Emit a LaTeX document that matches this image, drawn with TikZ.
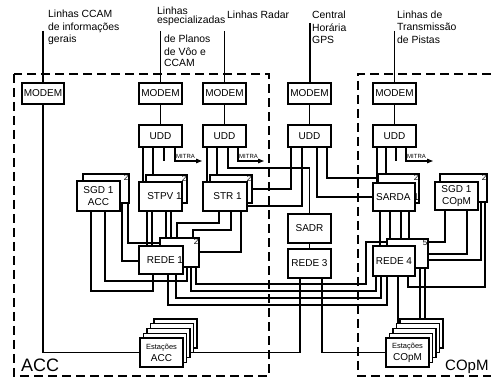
\documentclass[tikz,border=0pt]{standalone}
\usepackage{fontspec}
\setmainfont{Liberation Sans}
\usetikzlibrary{arrows.meta,backgrounds}
\newcommand\bx[6]{\pgfmathsetmacro\bxw{#4-#2}\pgfmathsetmacro\bxh{#5-#3}%
  \node[box,minimum width=\bxw pt,minimum height=\bxh pt] (#1) at ({(#2+#4)/2},{(#3+#5)/2}) {#6};}
\newcommand\sh[2]{\makebox[0pt]{\hspace*{#1}#2}}
\begin{document}
\begin{tikzpicture}[x=1pt,y=-1pt,
  box/.style={draw,line width=1.2pt,fill=white,inner sep=0pt,font=\fontsize{10}{12}\selectfont,align=center},
  layer/.style={draw,line width=1.1pt,fill=white},
  ln/.style={line width=1.1pt},
  txt/.style={inner sep=0pt,font=\fontsize{10.4}{12}\selectfont,anchor=base west},
  num/.style={inner sep=1.2pt,font=\fontsize{8}{9}\selectfont,anchor=north east},
  mitra/.style={inner sep=0pt,font=\fontsize{6}{7}\selectfont,anchor=south west},
  tip/.style={-{Triangle[length=6pt,width=4.5pt]}},
  zone/.style={line width=1.4pt,dash pattern=on 9pt off 5pt},
  big/.style={inner sep=0pt,anchor=base west}]
\useasboundingbox (0,0) rectangle (491,379);

% ---- boxes
\bx{m1}{22}{83}{64}{104}{MODEM}
\bx{m2}{139}{83}{182}{104}{MODEM}
\bx{m3}{203}{83}{246}{104}{MODEM}
\bx{m4}{288}{83}{331}{104}{MODEM}
\bx{m5}{373}{83}{416}{104}{MODEM}
\bx{u2}{139}{125}{182}{147}{UDD}
\bx{u3}{203}{125}{246}{147}{UDD}
\bx{u4}{288}{125}{331}{147}{UDD}
\bx{u5}{373}{125}{416}{147}{UDD}

\bx{sgdAb}{83}{174}{129}{203}{}
\bx{sgdA}{77}{181}{120}{211}{SGD 1\\ACC}
\bx{stpvb}{146}{175}{187}{203}{}
\bx{stpv}{139}{182}{182}{211}{\sh{8pt}{STPV 1}}
\bx{strb}{210}{175}{252}{203}{}
\bx{str}{203}{182}{247}{211}{\sh{5pt}{STR 1}}
\bx{sardab}{378}{174}{419}{203}{}
\bx{sarda}{373}{183}{415}{211}{\sh{7pt}{SARDA 1}}
\bx{sgdCb}{440}{174}{487}{202}{}
\bx{sgdC}{435}{182}{478}{210}{SGD 1\\COpM}
\bx{rede1b}{160}{238}{199}{267}{}
\bx{rede1}{139}{246}{183}{274}{\sh{8pt}{REDE 1}}
\bx{rede4b}{387}{239}{428}{268}{}
\bx{rede4}{373}{246}{415}{276}{REDE 4}
\bx{sadr}{288}{214}{331}{243}{SADR}
\bx{rede3}{288}{249}{331}{278}{REDE 3}

\node[num] (n1) at (sgdAb.north east) {2};
\node[num] (n2) at (stpvb.north east) {2};
\node[num] (n3) at (strb.north east) {2};
\node[num] (n4) at (sardab.north east) {2};
\node[num] (n5) at (sgdCb.north east) {2};
\node[num] (n6) at (rede1b.north east) {2};
\node[num] (n7) at (rede4b.north east) {5};

% ---- stations
\foreach \i in {4,3,2,1} \draw[layer] ({140+3.5*\i},{338-4.75*\i}) rectangle ++(43,29);
\bx{estA}{140}{338}{183}{367}{\fontsize{7.5}{14}\selectfont Estações\\\fontsize{10}{14}\selectfont ACC}
\foreach \i in {4,3,2,1} \draw[layer] ({386+3.5*\i},{338-4.75*\i}) rectangle ++(43,29);
\bx{estC}{386}{338}{429}{367}{\fontsize{7.5}{14}\selectfont Estações\\\fontsize{10}{14}\selectfont COpM}

% ---- texts
\node[txt] (t1a) at (48,18) {Linhas CCAM};
\node[txt] (t1b) at (48,31) {de informações};
\node[txt] (t1c) at (48,43) {gerais};
\node[txt] (t2a) at (157,14.5) {Linhas};
\node[txt] (t2b) at (157,24) {especializadas};
\node[txt] (t2c) at (164,43) {de Planos};
\node[txt] (t2d) at (164,56) {de Vôo e};
\node[txt] (t2e) at (164,67) {CCAM};
\node[txt] (t3) at (227,19) {Linhas Radar};
\node[txt] (t4a) at (312,19) {Central};
\node[txt] (t4b) at (312,32) {Horária};
\node[txt] (t4c) at (312,44) {GPS};
\node[txt] (t5a) at (397,19) {Linhas de};
\node[txt] (t5b) at (397,31) {Transmissão};
\node[txt] (t5c) at (397,44) {de Pistas};
\node[big,font=\fontsize{18}{18}\selectfont] (accl) at (21,372) {ACC};
\node[big,font=\fontsize{15}{15}\selectfont] (copml) at (445,371) {COpM};
\node[mitra] (ml2) at (176,158.5) {MITRA};
\node[mitra] (ml3) at (239,158.5) {MITRA};
\node[mitra] (ml5) at (407,158.5) {MITRA};

\coordinate (i1) at (43,31);
\coordinate (i2) at (160.5,31);
\coordinate (i3) at (224.5,31);
\coordinate (i4) at (309.5,23);
\coordinate (i5) at (394.5,31);
\coordinate (s2) at (164,161);
\coordinate (s5) at (396,161);
\coordinate (mt2) at (202,161);
\coordinate (mt3) at (264,161);
\coordinate (mt5) at (433,161);

\begin{scope}[on background layer]
% zones
\draw[zone] (14,74) rectangle (269,376);
\draw[zone] (491,74) -- (358,74) -- (358,376) -- (491,376);
% inputs
\draw[ln] (i1) -- (m1.north);
\draw[ln] (i2) -- (m2.north);
\draw[ln] (i3) -- (m3.north);
\draw[line width=2pt] (i4) -- (m4.north);
\draw[ln] (i5) -- (m5.north);
\draw[ln] (m2) -- (u2);
\draw[ln] (m3) -- (u3);
\draw[ln] (m4) -- (u4);
\draw[ln] (m5) -- (u5);
\draw[ln] (m1.south) |- (estA.west);
% UDD 2
\draw[ln] (143,0 |- u2.south) -- (143,0 |- stpv.north);
\draw[ln] (153,0 |- u2.south) -- (153,0 |- stpvb.north);
\draw[ln] (164,0 |- u2.south) -- (s2);
\draw[ln,tip] (175,0 |- u2.south) |- (mt2);
% UDD 3
\draw[ln] (207,0 |- u3.south) -- (207,0 |- str.north);
\draw[ln] (217,0 |- u3.south) -- (217,0 |- strb.north);
\draw[ln] (228,0 |- u3.south) -- (228,168) -| (sadr.north);
\draw[ln,tip] (238,0 |- u3.south) |- (mt3);
% UDD 4
\draw[ln] (291,0 |- u4.south) |- (strb.east);
\draw[ln] (302,0 |- u4.south) -- (302,206) -- (str.east |- 0,206);
\draw[ln] (317,0 |- u4.south) |- (sarda.west);
\draw[ln] (327,0 |- u4.south) -- (327,178) -- (sardab.west |- 0,178);
% UDD 5
\draw[ln] (377,0 |- u5.south) -- (377,0 |- sarda.north);
\draw[ln] (386,0 |- u5.south) -- (386,0 |- sardab.north);
\draw[ln] (396,0 |- u5.south) -- (s5);
\draw[ln,tip] (406,0 |- u5.south) |- (mt5);
% SGD ACC
\draw[ln] (91,0 |- sgdA.south) -- (91,291) -| (153,0 |- rede1.south);
\draw[ln] (105,0 |- sgdA.south) -- (105,281) -| (187,0 |- rede1b.south);
\draw[ln] (122,0 |- sgdAb.south) |- (rede1.west |- 0,261);
\draw[ln] (128,0 |- sgdAb.south) |- (rede1b.west |- 0,243);
% STPV
\draw[ln] (147,0 |- stpv.south) -- (147,0 |- rede1.north);
\draw[ln] (152,0 |- stpv.south) -- (152,0 |- rede1.north);
\draw[ln] (166,0 |- stpv.south) -- (166,0 |- rede1b.north);
\draw[ln] (171,0 |- stpv.south) -- (171,0 |- rede1b.north);
% STR
\draw[ln] (219,0 |- str.south) -- (219,223) -| (177,0 |- rede1b.north);
\draw[ln] (231,0 |- str.south) -- (231,230) -| (193,0 |- rede1b.north);
\draw[ln] (241,0 |- str.south) |- (rede1b.east |- 0,252);
% SADR / REDE 3
\draw[ln] (sadr) -- (rede3);
\draw[ln] (300,0 |- rede3.south) |- (estA.east);
\draw[ln] (322,0 |- rede3.south) |- (estC.west);
% bus REDE 1 - REDE 4
\draw[ln] (196,0 |- rede1b.south) -- (196,284) -- (366,284) |- (rede4b.west |- 0,242);
\draw[ln] (191,0 |- rede1b.south) -- (191,291) -| (376,0 |- rede4.south);
\draw[ln] (176,0 |- rede1.south) -- (176,298) -| (381,0 |- rede4.south);
\draw[ln] (168,0 |- rede1.south) -- (168,305) -| (387,0 |- rede4.south);
% SGD COpM
\draw[ln] (445,0 |- sgdC.south) |- (rede4b.east |- 0,242);
\draw[ln] (467,0 |- sgdC.south) |- (rede4b.east |- 0,254);
\draw[ln] (481,0 |- sgdCb.south) |- (rede4b.east |- 0,260);
\draw[ln] (485,0 |- sgdCb.south) -- (485,287) -| (408,0 |- rede4.south);
% SARDA
\draw[ln] (380,0 |- sarda.south) -- (380,0 |- rede4.north);
\draw[ln] (390,0 |- sarda.south) -- (390,0 |- rede4b.north);
\draw[ln] (401,0 |- sarda.south) -- (401,0 |- rede4b.north);
\draw[ln] (409,0 |- sarda.south) -- (409,0 |- rede4b.north);
% REDE 4 - stations
\draw[ln] (398,0 |- rede4.south) -- (398,0 |- estC.north);
\draw[ln] (420,0 |- rede4b.south) -- (420,0 |- estC.north);
\draw[ln] (425,0 |- rede4b.south) -- (425,0 |- estC.north);
\end{scope}
\end{tikzpicture}
\end{document}
